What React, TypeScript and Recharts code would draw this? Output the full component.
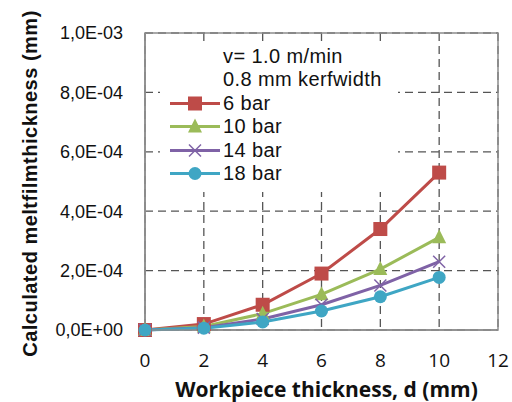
import { LineChart, Line, XAxis, YAxis, CartesianGrid, Legend, ReferenceArea } from 'recharts';

const thickness = [0, 2, 4, 6, 8, 10];
const bar6 = [0, 2.0e-5, 8.5e-5, 1.9e-4, 3.4e-4, 5.3e-4];
const bar10 = [0, 1.2e-5, 5.5e-5, 1.2e-4, 2.05e-4, 3.12e-4];
const bar14 = [0, 0.8e-5, 3.7e-5, 0.85e-4, 1.5e-4, 2.3e-4];
const bar18 = [0, 0.6e-5, 2.7e-5, 0.64e-4, 1.12e-4, 1.77e-4];

const xTicks = [0, 2, 4, 6, 8, 10, 12];
const yTicks = [0, 2e-4, 4e-4, 6e-4, 8e-4, 1e-3];

const headerLines = ['v= 1.0 m/min', '0.8 mm kerfwidth'];

const series = [
  { key: 'bar6', name: '6 bar', color: '#BE4B48', shape: 'square' },
  { key: 'bar10', name: '10 bar', color: '#9BBB59', shape: 'triangle' },
  { key: 'bar14', name: '14 bar', color: '#7F62A6', shape: 'cross' },
  { key: 'bar18', name: '18 bar', color: '#3FA6C4', shape: 'circle' },
];

const chartData = thickness.map((d, i) => ({
  d,
  bar6: bar6[i],
  bar10: bar10[i],
  bar14: bar14[i],
  bar18: bar18[i],
}));

// 1e-3 -> "1,0E-03"
const formatSci = (value: number) => {
  if (value === 0) return '0,0E+00';
  const [mant, exp] = value.toExponential(1).split('e');
  const n = parseInt(exp, 10);
  const sign = n < 0 ? '-' : '+';
  return `${mant.replace('.', ',')}E${sign}${String(Math.abs(n)).padStart(2, '0')}`;
};

function Marker({ shape, color, cx, cy }: { shape: string; color: string; cx: number; cy: number }) {
  if (cx == null || cy == null) return null;
  if (shape === 'square') {
    return <rect x={cx - 7} y={cy - 7} width={14} height={14} fill={color} />;
  }
  if (shape === 'triangle') {
    return <polygon points={`${cx},${cy - 8} ${cx + 7},${cy + 6} ${cx - 7},${cy + 6}`} fill={color} />;
  }
  if (shape === 'cross') {
    return (
      <g stroke={color} strokeWidth={1.5}>
        <line x1={cx - 6} y1={cy - 6} x2={cx + 6} y2={cy + 6} />
        <line x1={cx - 6} y1={cy + 6} x2={cx + 6} y2={cy - 6} />
      </g>
    );
  }
  return <circle cx={cx} cy={cy} r={6.5} fill={color} />;
}

function LegendBox() {
  const rowStyle = { height: 23.4, lineHeight: '23.4px', display: 'flex', alignItems: 'center' } as const;
  return (
    <div
      style={{
        fontFamily: '"Liberation Sans", Arial, sans-serif',
        fontSize: 20,
        color: '#111',
        letterSpacing: 0.4,
        background: '#fff',
        padding: '1px 0 0 10px',
        height: 148,
        boxSizing: 'border-box',
      }}
    >
      {headerLines.map((t) => (
        <div key={t} style={{ ...rowStyle, paddingLeft: 53 }}>{t}</div>
      ))}
      {series.map((s) => (
        <div key={s.key} style={rowStyle}>
          <svg width={53} height={23}>
            <line x1={0} y1={11.5} x2={50} y2={11.5} stroke={s.color} strokeWidth={3} />
            <Marker shape={s.shape} color={s.color} cx={25} cy={11.5} />
          </svg>
          <span>{s.name}</span>
        </div>
      ))}
    </div>
  );
}

export default function App() {
  return (
    <div style={{ position: 'absolute', left: 0, top: 0, background: '#fff' }}>
      <LineChart width={512} height={402} data={chartData} margin={{ top: 33, right: 14, bottom: 0, left: 0 }}>
        <CartesianGrid stroke="#555" strokeWidth={1.3} strokeDasharray="8 5" />
        <ReferenceArea x1={0} x2={12} y1={0} y2={1e-3} fill="none" stroke="#8c8c8c" strokeWidth={1.5} />
        <XAxis
          dataKey="d"
          type="number"
          domain={[0, 12]}
          ticks={xTicks}
          axisLine={{ stroke: '#8c8c8c', strokeWidth: 1.5 }}
          tickLine={false}
          tickSize={0}
          tickMargin={24}
          height={72}
          tick={{ fill: '#111', fontSize: 19, fontFamily: '"Open Sans", sans-serif' }}
          label={({ viewBox }: any) => (
            <text
              x={viewBox.x + viewBox.width / 2 + 5}
              y={viewBox.y + 67}
              textAnchor="middle"
              fill="#111"
              fontSize={21}
              fontWeight="bold"
              fontFamily='"Open Sans", sans-serif'
            >
              Workpiece thickness, d (mm)
            </text>
          )}
        />
        <YAxis
          type="number"
          domain={[0, 1e-3]}
          ticks={yTicks}
          width={145}
          axisLine={{ stroke: '#8c8c8c', strokeWidth: 1.5 }}
          tickLine={false}
          tickSize={0}
          tickMargin={22}
          tickFormatter={formatSci}
          tick={{ fill: '#111', fontSize: 18, fontFamily: '"Liberation Sans", Arial, sans-serif' }}
          label={({ viewBox }: any) => {
            const cx = 30;
            const cy = viewBox.y + viewBox.height / 2 + 2;
            return (
              <text
                x={cx}
                y={cy}
                transform={`rotate(-90 ${cx} ${cy})`}
                textAnchor="middle"
                dominantBaseline="central"
                fill="#111"
                fontSize={20}
                fontWeight="bold"
                letterSpacing={0.5}
                fontFamily='"Liberation Sans", Arial, sans-serif'
              >
                Calculated meltfilmthickness (mm)
              </text>
            );
          }}
        />
        <Legend
          layout="vertical"
          align="center"
          verticalAlign="middle"
          content={() => <LegendBox />}
          wrapperStyle={{ left: 160, top: 44, width: 238, height: 148 }}
        />
        {series.map((s) => (
          <Line
            key={s.key}
            dataKey={s.key}
            name={s.name}
            stroke={s.color}
            strokeWidth={3}
            isAnimationActive={false}
            dot={(props: any) => <Marker key={`${s.key}-${props.index}`} shape={s.shape} color={s.color} cx={props.cx} cy={props.cy} />}
            activeDot={false}
          />
        ))}
      </LineChart>
    </div>
  );
}
